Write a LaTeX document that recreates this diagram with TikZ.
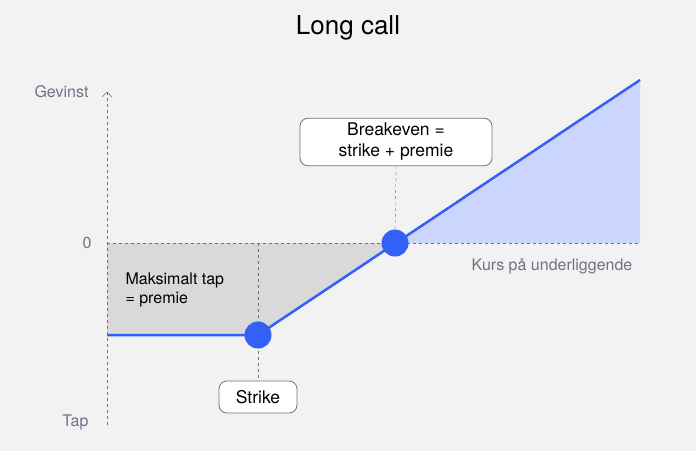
\documentclass[tikz,border=0pt]{standalone}
\usepackage{fontspec}
\setmainfont{TeX Gyre Heros}
\usetikzlibrary{positioning,arrows}
\definecolor{bgcol}{HTML}{F2F2F2}
\definecolor{linecol}{HTML}{3461F5}
\definecolor{fillblue}{HTML}{CBD6FF}
\definecolor{fillgray}{HTML}{D9D9D9}
\definecolor{axiscol}{HTML}{6E7288}
\begin{document}
\begin{tikzpicture}[x=1pt,y=-1pt,
axis/.style={draw=axiscol, dashed, dash pattern=on 3pt off 3pt, thin},
lbl/.style={text=axiscol, font=\fontsize{16}{19}\selectfont},
dot/.style={circle, fill=linecol, minimum size=27pt, inner sep=0pt},
tag/.style={rectangle, rounded corners=8pt, draw=axiscol, fill=white, thick, align=center, font=\fontsize{17.5}{21}\selectfont, inner sep=5pt}
]
\fill[bgcol] (0,0) rectangle (696,451);

%Nodes
\node[font=\fontsize{26}{30}\selectfont] (title) at (348,28) {Long call};
\coordinate (origin) at (107,243);
\coordinate (axtop) at (107,92);
\coordinate (axbot) at (107,425);
\coordinate (axright) at (640,243);
\coordinate (flatstart) at (107,335);
\coordinate (lineend) at (640,80);
\node[lbl, anchor=east] (gevinst) at (92,92) {Gevinst};
\node[lbl, anchor=east] (zero) at (95,243) {0};
\node[lbl, anchor=east] (tap) at (92,422) {Tap};
\node[lbl] (kurs) at (552,266) {Kurs på underliggende};
\node[tag, minimum width=192pt, minimum height=46pt] (breakbox) at (396,142) {Breakeven =\\strike + premie};
\node[tag, minimum width=78pt, minimum height=32pt] (strikebox) at (258,397) {Strike};

%Areas
\fill[fillgray] (origin) -- (395,243) -- (258,335) -- (flatstart) -- cycle;
\fill[fillblue] (395,243) -- (lineend) -- (axright) -- cycle;
\node[anchor=west, align=left, font=\fontsize{16}{19}\selectfont] (maxtap) at (122,290) {Maksimalt tap\\= premie};

%Axes
\draw[axis] (axbot) -- (axtop);
\draw[axiscol, thin] (102,97) -- (axtop) -- (112,97);
\draw[axis] (origin) -- (axright);
\draw[axis] (258,243) -- (strikebox.north);
\draw[axis] (breakbox.south) -- (395,243);

%Payoff
\draw[linecol, line width=2.5pt] (flatstart) -- (258,335) -- (lineend);
\node[dot] (strikedot) at (258,335) {};
\node[dot] (breakdot) at (395,243) {};
\end{tikzpicture}
\end{document}
